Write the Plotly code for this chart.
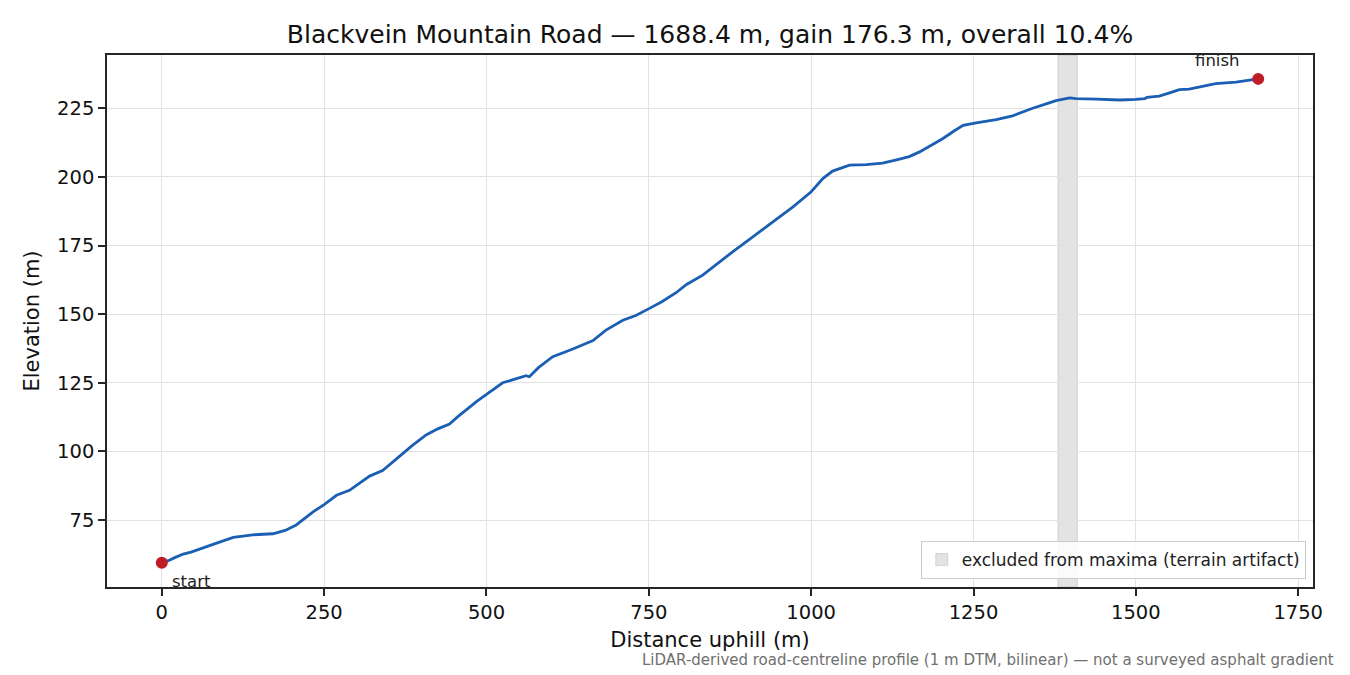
import plotly.graph_objects as go

# ---- data ----
distance_m = [0, 10, 20, 33, 45, 58, 80, 110, 140, 171, 190, 207, 220, 233, 250, 269, 289, 305,
              320, 340, 355, 366, 385, 407, 425, 443, 455, 469, 485, 500, 515, 525, 545, 561,
              566, 580, 602, 633, 664, 684, 710, 730, 751, 770, 792, 808, 833, 855, 879, 905,
              931, 950, 972, 1000, 1018, 1033, 1059, 1085, 1110, 1133, 1151, 1167, 1185, 1203,
              1220, 1234, 1254, 1285, 1310, 1325, 1341, 1362, 1377, 1398, 1408, 1439, 1475,
              1500, 1514, 1517, 1536, 1552, 1567, 1582, 1603, 1623, 1654, 1688.4]
elevation_m = [59.4, 60.2, 61.3, 62.6, 63.3, 64.3, 66.2, 68.7, 69.6, 70.0, 71.2, 73.2, 75.5, 78.0,
               80.6, 84.0, 85.8, 88.6, 91.0, 93.0, 95.8, 98.2, 102.0, 106.0, 108.2, 110.0, 112.5,
               115.2, 118.2, 120.8, 123.2, 125.0, 126.4, 127.6, 127.2, 130.5, 134.5, 137.3, 140.4,
               144.2, 147.8, 149.5, 152.1, 154.5, 157.8, 160.8, 164.2, 168.4, 172.7, 177.2, 181.8,
               185.2, 189.1, 194.6, 199.4, 202.1, 204.3, 204.5, 205.0, 206.3, 207.4, 209.1, 211.6,
               214.0, 216.7, 218.8, 219.7, 220.9, 222.2, 223.6, 225.0, 226.6, 227.8, 228.8, 228.5,
               228.3, 228.0, 228.2, 228.5, 229.0, 229.4, 230.6, 231.8, 232.0, 233.0, 234.0, 234.5,
               235.7]
excluded_span = [1380, 1410]
x_ticks = [0, 250, 500, 750, 1000, 1250, 1500, 1750]
y_ticks = [75, 100, 125, 150, 175, 200, 225]
endpoint_labels = ["start", "finish"]

title_text = "Blackvein Mountain Road — 1688.4 m, gain 176.3 m, overall 10.4%"
note_text = "LiDAR-derived road-centreline profile (1 m DTM, bilinear) — not a surveyed asphalt gradient"

FONT = "DejaVu Sans"
LINE = "#1a5fb4"
RED = "#c01c28"

fig = go.Figure()

fig.add_trace(go.Scatter(x=distance_m, y=elevation_m, mode="lines",
                         line=dict(color=LINE, width=2.8), showlegend=False,
                         hoverinfo="skip"))
fig.add_trace(go.Scatter(x=[distance_m[0], distance_m[-1]], y=[elevation_m[0], elevation_m[-1]],
                         mode="markers", marker=dict(color=RED, size=12),
                         showlegend=False, hoverinfo="skip"))

fig.add_shape(type="rect", xref="x", yref="paper", x0=excluded_span[0], x1=excluded_span[1],
              y0=0, y1=1, fillcolor="rgba(128,128,128,0.22)",
              line=dict(color="rgba(128,128,128,0.25)", width=1), layer="below",
              showlegend=True, name="excluded from maxima (terrain artifact)")

fig.add_annotation(x=distance_m[0], y=elevation_m[0], text=endpoint_labels[0], showarrow=False,
                   xanchor="left", yanchor="middle", xshift=8, yshift=-19,
                   font=dict(family=FONT, size=16.5, color="#222"))
fig.add_annotation(x=distance_m[-1], y=elevation_m[-1], text=endpoint_labels[1], showarrow=False,
                   xanchor="right", yanchor="middle", xshift=-16, yshift=18,
                   font=dict(family=FONT, size=16.5, color="#222"))
fig.add_annotation(xref="paper", yref="paper", x=1.0191, y=-0.137, text=note_text,
                   showarrow=False, xanchor="right", yanchor="middle",
                   font=dict(family=FONT, size=15, color="#707070"))

axis_common = dict(showline=True, linecolor="#262626", linewidth=1.5, mirror=True,
                   ticks="outside", ticklen=7, tickwidth=1.5, tickcolor="#262626",
                   showgrid=True, gridcolor="#e2e2e2", gridwidth=1, zeroline=False,
                   tickfont=dict(family=FONT, size=19.5, color="#111"))

fig.update_layout(
    width=1350, height=675,
    paper_bgcolor="white", plot_bgcolor="white",
    margin=dict(l=107, r=37, t=55, b=88),
    title=dict(text=title_text, x=0.5, xref="paper", xanchor="center",
               y=1 - 34 / 675, yanchor="middle",
               font=dict(family=FONT, size=25, color="#111")),
    font=dict(family=FONT),
    xaxis=dict(range=[-84.4, 1772.8], tickvals=x_ticks,
               title=dict(text="Distance uphill (m)", standoff=9,
                          font=dict(family=FONT, size=21, color="#111")),
               **axis_common),
    yaxis=dict(range=[50.6, 244.4], tickvals=y_ticks,
               title=dict(text="Elevation (m)", standoff=12,
                          font=dict(family=FONT, size=21, color="#111")),
               **axis_common),
    legend=dict(x=0.994, y=0.015, xanchor="right", yanchor="bottom",
                bgcolor="rgba(255,255,255,0.85)", bordercolor="#cccccc", borderwidth=1,
                font=dict(family=FONT, size=17, color="#222")),
    showlegend=True,
)

fig.write_html("out.html", config={"displayModeBar": False},
               post_script="document.body.style.margin='0';document.body.style.overflow='hidden';")
